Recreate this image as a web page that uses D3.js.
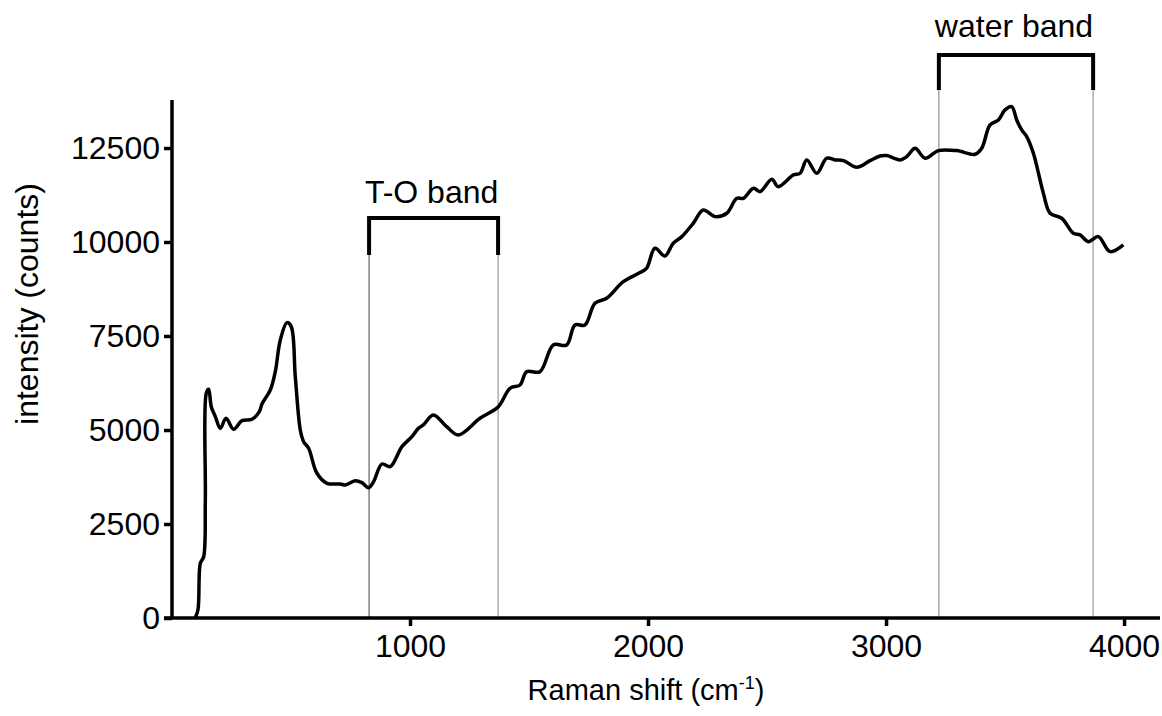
<!DOCTYPE html>
<html>
<head>
<meta charset="utf-8">
<script src="https://cdn.jsdelivr.net/npm/d3@7"></script>
<style>
  html, body { margin: 0; padding: 0; background: #fff; }
  svg { display: block; font-family: "Liberation Sans", Arial, sans-serif; }
</style>
</head>
<body>
<svg id="chart" width="1162" height="716"></svg>
<script>
// Raman shift (cm-1)
const shift = [97,109,119,133,140,144,154,165,182,203,227,259,294,336,367,378,413,434,455,483,501,518,539,553,574,609,651,707,728,770,798,826,847,882,917,966,1008,1036,1056,1098,1154,1203,1294,1371,1420,1462,1490,1546,1602,1658,1693,1735,1777,1826,1896,1966,1994,2029,2071,2106,2142,2190,2232,2282,2331,2373,2401,2443,2471,2520,2547,2611,2639,2667,2709,2751,2786,2821,2877,2933,2975,3003,3059,3087,3122,3164,3220,3297,3374,3402,3437,3472,3500,3528,3549,3570,3591,3619,3661,3689,3738,3787,3815,3850,3892,3941,3997];
// intensity (counts)
const intensity = [0,213,1455,1630,3140,5977,6083,5620,5355,5045,5312,5020,5248,5285,5488,5692,6065,6552,7395,7855,7750,6420,5000,4690,4514,3849,3583,3564,3538,3652,3599,3466,3626,4096,4025,4557,4823,5050,5134,5400,5089,4868,5312,5620,6110,6198,6552,6552,7262,7262,7794,7794,8371,8504,8946,9186,9302,9834,9629,9967,10143,10498,10853,10675,10764,11163,11163,11429,11340,11669,11473,11784,11829,12183,11829,12228,12183,12165,11988,12165,12289,12298,12183,12272,12494,12228,12431,12431,12334,12494,13114,13247,13513,13601,13247,12981,12804,12361,11296,10765,10632,10232,10188,10010,10143,9744,9922];

const xTicks = [1000, 2000, 3000, 4000];
const yTicks = [0, 2500, 5000, 7500, 10000, 12500];

const bandLabels = ["T-O band", "water band"];
const bandStart = [828, 3222];
const bandEnd = [1370, 3870];

const FS = 32;
const svg = d3.select("#chart");
const x = d3.scaleLinear().domain([0, 4151]).range([172, 1160]);
const y = d3.scaleLinear().domain([0, 13777]).range([618, 100]);

// band guide lines and brackets
const bandTop = [255, 90];
const bandBar = [218, 55];
const textGap = [15, 18];
const leftCol = ["#444", "#777"];
bandLabels.forEach((lab, i) => {
  svg.append("line").attr("x1", x(bandStart[i])).attr("x2", x(bandStart[i]))
    .attr("y1", bandTop[i]).attr("y2", 618)
    .attr("stroke", leftCol[i]).attr("stroke-width", 1);
  svg.append("line").attr("x1", x(bandEnd[i])).attr("x2", x(bandEnd[i]))
    .attr("y1", bandTop[i]).attr("y2", 618)
    .attr("stroke", "#999").attr("stroke-width", 1.2);
  svg.append("path")
    .attr("d", `M${x(bandStart[i])},${bandTop[i]} V${bandBar[i]} H${x(bandEnd[i])} V${bandTop[i]}`)
    .attr("fill", "none").attr("stroke", "#000").attr("stroke-width", 4)
    .attr("stroke-linejoin", "miter");
  svg.append("text")
    .attr("x", (x(bandStart[i]) + x(bandEnd[i])) / 2 - 2)
    .attr("y", bandBar[i] - textGap[i])
    .attr("text-anchor", "middle")
    .attr("font-size", FS)
    .attr("fill", "#000")
    .text(lab);
});

// spectrum line
const line = d3.line().x((d, i) => x(shift[i])).y(d => y(d)).curve(d3.curveCatmullRom.alpha(0.5));
svg.append("path").datum(intensity)
  .attr("d", line)
  .attr("fill", "none").attr("stroke", "#000").attr("stroke-width", 3.5)
  .attr("stroke-linejoin", "round");

// axes
const xAxis = svg.append("g").attr("transform", "translate(0,618)")
  .call(d3.axisBottom(x).tickValues(xTicks).tickSize(8).tickPadding(8).tickFormat(d3.format("d")));
const yAxis = svg.append("g").attr("transform", "translate(172,0)")
  .call(d3.axisLeft(y).tickValues(yTicks).tickSize(8).tickPadding(4).tickFormat(d3.format("d")));

[xAxis, yAxis].forEach(g => {
  g.select(".domain").remove();
  g.selectAll(".tick line").attr("stroke", "#000").attr("stroke-width", 3.5);
  g.selectAll(".tick text").attr("font-size", FS).attr("fill", "#000")
    .attr("font-family", "'Liberation Sans', Arial, sans-serif");
});
// axis lines
svg.append("line").attr("x1", 164).attr("x2", 1160).attr("y1", 618).attr("y2", 618)
  .attr("stroke", "#000").attr("stroke-width", 3.5);
svg.append("line").attr("x1", 172).attr("x2", 172).attr("y1", 100).attr("y2", 618)
  .attr("stroke", "#000").attr("stroke-width", 3.5);

// axis titles
const xt = svg.append("text").attr("x", 646).attr("y", 700).attr("text-anchor", "middle")
  .attr("font-size", 29).attr("fill", "#000");
xt.append("tspan").text("Raman shift (cm");
xt.append("tspan").attr("dy", -11).attr("font-size", 18).text("-1");
xt.append("tspan").attr("dy", 11).text(")");

svg.append("text").attr("transform", "translate(38,304) rotate(-90)")
  .attr("text-anchor", "middle").attr("font-size", FS).attr("fill", "#000")
  .text("intensity (counts)");
</script>
</body>
</html>
